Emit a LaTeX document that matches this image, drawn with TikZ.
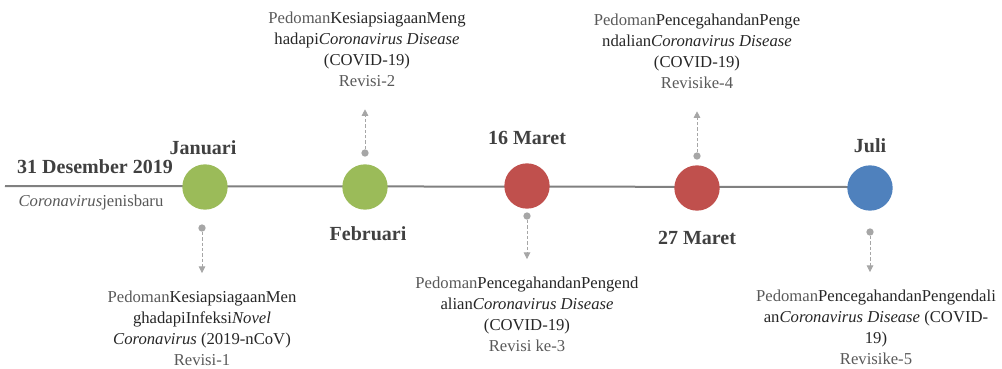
\documentclass[tikz,border=0pt]{standalone}
\usepackage{fontspec}
\setmainfont{Liberation Serif}
\usetikzlibrary{arrows.meta,positioning}
\definecolor{mgreen}{HTML}{9BBB59}
\definecolor{mred}{HTML}{C0504D}
\definecolor{mblue}{HTML}{4F81BD}
\definecolor{linegray}{HTML}{808080}
\definecolor{dotgray}{HTML}{A6A6A6}
\definecolor{labelgray}{HTML}{404040}
\definecolor{docdark}{HTML}{262626}
\definecolor{doclight}{HTML}{595959}
\newcommand{\lt}[1]{\textcolor{doclight}{#1}}

\begin{document}
\begin{tikzpicture}[
    x=0.75pt, y=-0.75pt,
    event/.style={circle, minimum size=34pt, inner sep=0pt},
    month/.style={font=\fontsize{15}{18}\selectfont\bfseries, text=labelgray},
    doc/.style={align=center, font=\fontsize{12.5}{15.75}\selectfont, text=docdark, inner sep=0pt},
    dot/.style={circle, fill=dotgray, minimum size=5.5pt, inner sep=0pt},
    arrow/.style={-{Triangle[length=5pt, width=5pt]}, dotgray, semithick, dash pattern=on 2.5pt off 1.5pt, shorten >=13pt},
    uparrow/.style={arrow, shorten >=17pt}
  ]
    \useasboundingbox (0,0) rectangle (1002,368);

    % timeline
    \coordinate (tlstart) at (5,186);
    \coordinate (tlend) at (850,187);
    \draw[line width=1.5pt, linegray] (tlstart) -- (tlend);

    \node[event, fill=mgreen] (jan) at (205,187) {};
    \node[event, fill=mgreen] (feb) at (365,187) {};
    \node[event, fill=mred] (mar16) at (527,186) {};
    \node[event, fill=mred] (mar27) at (697,188) {};
    \node[event, fill=mblue] (jul) at (870,188) {};

    % dates
    \node[month] (start) at (95,167) {31 Desember 2019};
    \node[font=\fontsize{12.5}{15}\selectfont, text=doclight] (novel) at (91,202) {\textit{Coronavirus}jenisbaru};
    \node[month] (janlbl) at (203,148) {Januari};
    \node[month] (feblbl) at (368,234) {Februari};
    \node[month] (mar16lbl) at (527,138) {16 Maret};
    \node[month] (mar27lbl) at (697,238) {27 Maret};
    \node[month] (jullbl) at (870,146) {Juli};

    % guidelines
    \node[doc] (jandoc) at (202,328) {\lt{Pedoman}KesiapsiagaanMen\\ghadapiInfeksi\textit{Novel}\\\textit{Coronavirus} (2019-nCoV)\\\lt{Revisi-1}};
    \node[doc] (febdoc) at (367,49) {\lt{Pedoman}KesiapsiagaanMeng\\hadapi\textit{Coronavirus Disease}\\(COVID-19)\\\lt{Revisi-2}};
    \node[doc] (mar16doc) at (527,314) {\lt{Pedoman}PencegahandanPengend\\alian\textit{Coronavirus Disease}\\(COVID-19)\\\lt{Revisi ke-3}};
    \node[doc] (mar27doc) at (697,51) {\lt{Pedoman}PencegahandanPenge\\ndalian\textit{Coronavirus Disease}\\(COVID-19)\\\lt{Revisike-4}};
    \node[doc] (juldoc) at (876,327) {\lt{Pedoman}PencegahandanPengendali\\an\textit{Coronavirus Disease} (COVID-\\19)\\\lt{Revisike-5}};

    \node[dot] (jandot) at (202,228) {};
    \node[dot] (febdot) at (365,153) {};
    \node[dot] (mar16dot) at (527,216) {};
    \node[dot] (mar27dot) at (697,156) {};
    \node[dot] (juldot) at (870,232) {};

    \draw[arrow] (jandot) -- (jandot |- jandoc.north);
    \draw[uparrow] (febdot) -- (febdot |- febdoc.south);
    \draw[arrow] (mar16dot) -- (mar16dot |- mar16doc.north);
    \draw[uparrow] (mar27dot) -- (mar27dot |- mar27doc.south);
    \draw[arrow] (juldot) -- (juldot |- juldoc.north);
  \end{tikzpicture}
\end{document}
